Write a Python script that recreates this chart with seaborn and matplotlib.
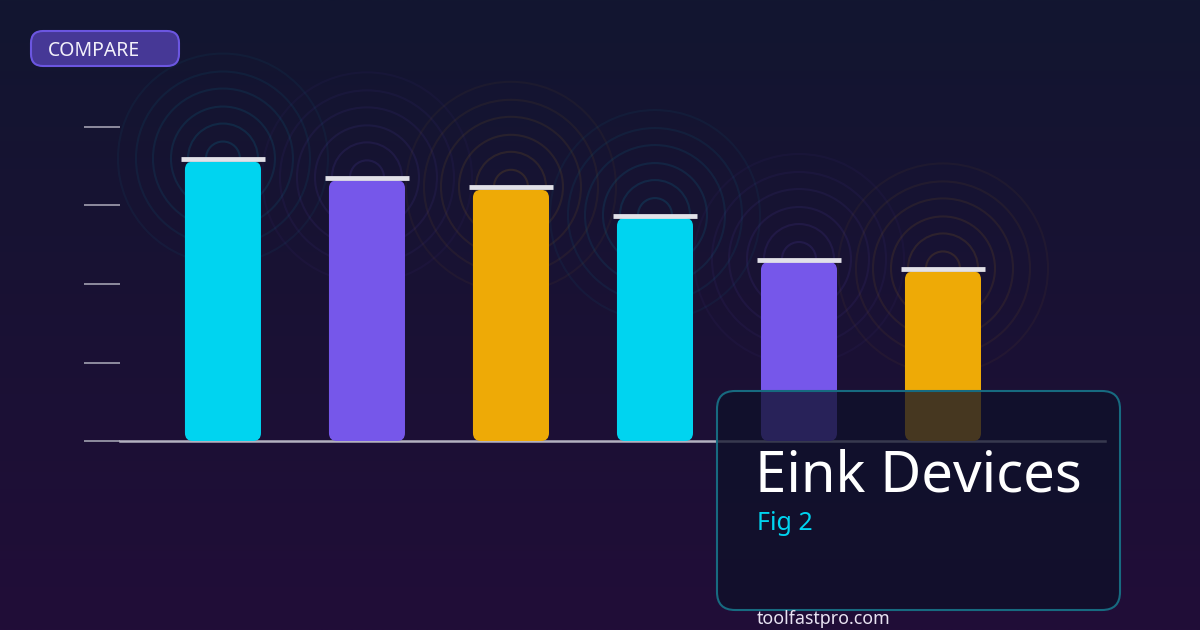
import numpy as np
import pandas as pd
import matplotlib
matplotlib.use("Agg")
import matplotlib.pyplot as plt
import seaborn as sns
from matplotlib.patches import FancyBboxPatch, Circle
from matplotlib.transforms import offset_copy

# ---- data ----
categories = ["A", "B", "C", "D", "E", "F"]
values = [89, 83, 80, 71, 57, 54]
bar_colors = ["#00d4f0", "#7657ea", "#eeaa06", "#00d4f0", "#7657ea", "#eeaa06"]
y_ticks = [0, 25, 50, 75, 100]
title = "Eink Devices"
subtitle = "Fig 2"
badge = "COMPARE"
site = "toolfastpro.com"

sns.set_theme(style="white")
plt.rcParams["font.family"] = ["Noto Sans", "DejaVu Sans"]

W, H, DPI = 1200, 630, 100
fig = plt.figure(figsize=(W / DPI, H / DPI), dpi=DPI)

# background gradient
bg = fig.add_axes([0, 0, 1, 1], zorder=0)
bg.set_xlim(0, W)
bg.set_ylim(0, H)
bg.axis("off")
top = np.array([18, 22, 48]) / 255
bot = np.array([33, 13, 56]) / 255
t = np.linspace(0, 1, 256)[:, None]
grad = top[None, :] * (1 - t) + bot[None, :] * t
grad = np.repeat(grad[:, None, :], 2, axis=1)
bg.imshow(grad, extent=[0, W, 0, H], aspect="auto", origin="upper", zorder=0)

# main axes
ax = fig.add_axes([120 / W, 189 / H, 985 / W, 314 / H], zorder=2)
ax.patch.set_alpha(0)
df = pd.DataFrame({"cat": categories, "val": values})
sns.barplot(data=df, x="cat", y="val", hue="cat", palette=bar_colors,
            legend=False, ax=ax, width=0.528, saturation=1)
ax.set_xlim(-0.715, 6.125)
ax.set_ylim(0, 100)
ax.set_yticks(y_ticks)
ax.set_yticklabels([])
ax.set_xticks([])
ax.set_xlabel("")
ax.set_ylabel("")
for s in ["left", "top", "right"]:
    ax.spines[s].set_visible(False)
ax.spines["bottom"].set_color("#b3b1c0")
ax.spines["bottom"].set_linewidth(1.8)
ax.spines["bottom"].set_zorder(1)
ax.tick_params(axis="y", length=26, width=1.4, color="#8e8c9e", direction="out", left=True)

# px per unit
px_x = 144.0
px_y = 314.0 / 100
r_px = 8.0
bars = list(ax.patches)
for p, col in zip(bars, bar_colors):
    x0, y0, w, h = p.get_x(), p.get_y(), p.get_width(), p.get_height()
    p.set_visible(False)
    r = r_px / px_x
    fb = FancyBboxPatch((x0, y0), w, h,
                        boxstyle=f"round,pad=0,rounding_size={r}",
                        mutation_aspect=(r_px / px_y) / r,
                        facecolor=col, edgecolor="none", zorder=3, clip_on=False)
    ax.add_patch(fb)
    # cap
    cx = x0 + w / 2
    capt = offset_copy(ax.transData, fig=fig, x=0, y=2.5 * 72 / DPI, units="points")
    ax.plot([cx - 42 / px_x, cx + 42 / px_x], [y0 + h, y0 + h], color="#e2e1e8",
            lw=4.8 * 72 / DPI, solid_capstyle="butt", transform=capt, zorder=4, clip_on=False)
    # concentric rings in background (pixel coords)
    dx, dy = ax.transData.transform((cx, y0 + h))
    dy += 3
    for k, rad in enumerate([17, 35, 52, 70, 87, 105]):
        a = 0.12 - 0.015 * k
        bg.add_patch(Circle((dx, dy), rad, fill=False, edgecolor=col, alpha=a,
                            lw=1.5, zorder=1))

# overlay (y down)
ov = fig.add_axes([0, 0, 1, 1], zorder=5)
ov.set_xlim(0, W)
ov.set_ylim(H, 0)
ov.axis("off")
ov.patch.set_alpha(0)

ov.add_patch(FancyBboxPatch((717, 391), 403, 219,
                            boxstyle="round,pad=0,rounding_size=18",
                            facecolor="#0e1129", alpha=0.75, edgecolor="none", zorder=1))
ov.add_patch(FancyBboxPatch((717, 391), 403, 219,
                            boxstyle="round,pad=0,rounding_size=18",
                            facecolor="none", edgecolor="#176a80", lw=1.5, zorder=2))
ov.text(755, 492, title, color="white", fontsize=40.5, ha="left", va="baseline", zorder=3)
ov.text(757, 530, subtitle, color="#00d4f0", fontsize=18, ha="left", va="baseline", zorder=3)
ov.text(757, 624, site, color="#e8e3f2", fontsize=12.8, ha="left", va="baseline", zorder=3)

ov.add_patch(FancyBboxPatch((31, 31), 148, 35,
                            boxstyle="round,pad=0,rounding_size=12",
                            facecolor="#463896", edgecolor="#6b56e0", lw=1.5, zorder=3))
ov.text(48, 56, badge, color="#f2f0fa", fontsize=14, ha="left", va="baseline", zorder=4)

fig.savefig("out.png", dpi=DPI)
